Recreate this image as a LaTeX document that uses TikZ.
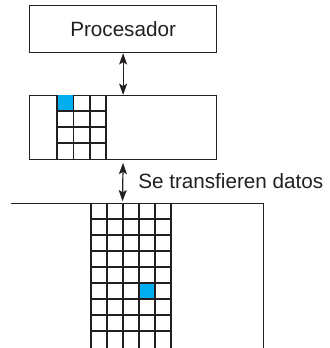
\documentclass[tikz,border=0pt]{standalone}
\usepackage{fontspec}
\setmainfont{Liberation Sans}
\usetikzlibrary{arrows.meta}
\definecolor{ink}{HTML}{231F20}
\definecolor{cellblue}{HTML}{00AEEF}
\tikzset{
  box/.style={draw=ink, line width=0.9pt, rectangle, inner sep=0pt, anchor=north west},
  gridline/.style={draw=ink, line width=1.25pt},
  link/.style={draw=ink, line width=0.9pt, {Stealth[length=8.5pt,width=6pt,inset=1.8pt]}-{Stealth[length=8.5pt,width=6pt,inset=1.8pt]}},
  label text/.style={font=\fontsize{15.5}{18}\selectfont, text=ink}
}
\begin{document}
\begin{tikzpicture}[x=0.75pt, y=-0.75pt]
\useasboundingbox (0,0) rectangle (329,348);

% processor and cache
\node[box, label text, minimum width=140.25pt, minimum height=35.25pt] (proc) at (29,5) {Procesador};
\node[box, minimum width=140.25pt, minimum height=48pt] (cache) at (29,95) {};

% cache block
\fill[cellblue] (57.3,95) rectangle (73.6,111);
\foreach \i in {0,...,3} \draw[gridline] ({57.3+16.25*\i},95) -- ++(0,64);
\foreach \j in {1,...,3} \draw[gridline] (57.3,{95+16*\j}) -- ++(48.75,0);

% main memory (open frame continuing below)
\coordinate (memtop) at (122.5,203.3);
\draw[ink, line width=0.9pt] (11,203.3) -- (263.3,203.3) -- (263.3,348);
\begin{scope}
  \clip (0,0) rectangle (329,348);
  \fill[cellblue] (138.7,284.3) rectangle (154.7,300.3);
  \foreach \i in {0,...,5} \draw[gridline] ({90.7+16*\i},203.3) -- ++(0,150);
  \foreach \j in {1,...,8} \draw[gridline] (90.7,{203.3+16*\j}) -- (170.7,{203.3+16*\j});
\end{scope}

% transfers
\draw[link] (proc.south) -- (cache.north);
\draw[link, shorten <=2pt, shorten >=1.5pt] (cache.south) -- (memtop);
\node[label text, anchor=base west, inner sep=0pt] (xfer) at (138,189) {Se transfieren datos};
\end{tikzpicture}
\end{document}
